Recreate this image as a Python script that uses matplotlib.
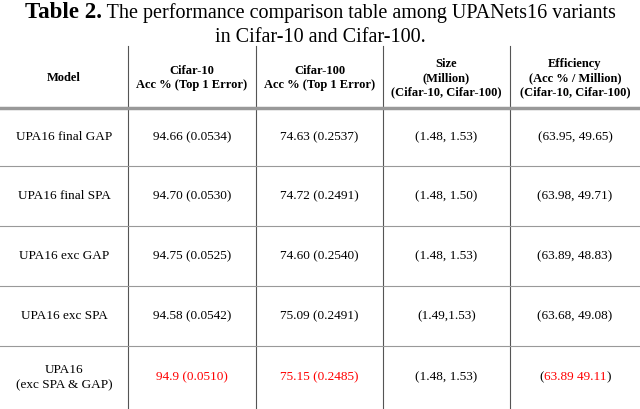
import matplotlib
matplotlib.use("Agg")
import matplotlib.pyplot as plt

headers = ["Model", "Cifar-10\nAcc % (Top 1 Error)", "Cifar-100\nAcc % (Top 1 Error)",
           "Size\n(Million)\n(Cifar-10, Cifar-100)", "Efficiency\n(Acc % / Million)\n(Cifar-10, Cifar-100)"]
models = ["UPA16 final GAP", "UPA16 final SPA", "UPA16 exc GAP", "UPA16 exc SPA", "UPA16\n(exc SPA & GAP)"]
cifar10 = ["94.66 (0.0534)", "94.70 (0.0530)", "94.75 (0.0525)", "94.58 (0.0542)", "94.9 (0.0510)"]
cifar100 = ["74.63 (0.2537)", "74.72 (0.2491)", "74.60 (0.2540)", "75.09 (0.2491)", "75.15 (0.2485)"]
size = ["(1.48, 1.53)", "(1.48, 1.50)", "(1.48, 1.53)", "(1.49,1.53)", "(1.48, 1.53)"]
eff = ["(63.95, 49.65)", "(63.98, 49.71)", "(63.89, 48.83)", "(63.68, 49.08)", "63.89 49.11"]

W, H = 640, 409
fig = plt.figure(figsize=(W/100, H/100), dpi=100)
ax = fig.add_axes([0, 0, 1, 1])
ax.set_xlim(0, W); ax.set_ylim(H, 0); ax.axis("off")
serif = "Liberation Serif"

t1 = ax.text(0, 13, "Table 2.", fontsize=16.5, fontweight="bold", family=serif, va="center", ha="left")
t2 = ax.text(0, 13, " The performance comparison table among UPANets16 variants", fontsize=14.5, family=serif, va="center", ha="left")
fig.canvas.draw()
r = fig.canvas.get_renderer()
w1 = t1.get_window_extent(r).width; w2 = t2.get_window_extent(r).width
x0 = (W - w1 - w2) / 2
t1.set_x(x0); t2.set_x(x0 + w1)
ax.text(320, 37, "in Cifar-10 and Cifar-100.", fontsize=14.5, family=serif, ha="center", va="center")

colx = [0, 128, 256, 383, 510, 640]
rowy = [46, 108, 166, 226, 286, 346, 409]
for x in colx[1:-1]:
    ax.plot([x, x], [46, 409], color="#555555", lw=0.8)
ax.plot([0, 640], [108, 108], color="#999999", lw=2.5)
for y in rowy[2:-1]:
    ax.plot([0, 640], [y, y], color="#999999", lw=0.8)

for j, h in enumerate(headers):
    cx = (colx[j] + colx[j+1]) / 2
    ax.text(cx, 78, h, ha="center", va="center", fontsize=9, fontweight="bold",
            family=serif, linespacing=1.2)

for i in range(5):
    cy = (rowy[i+1] + rowy[i+2]) / 2
    red = "red" if i == 4 else "black"
    cols = [(models[i], "black"), (cifar10[i], red), (cifar100[i], red), (size[i], "black")]
    for j, (s, c) in enumerate(cols):
        cx = (colx[j] + colx[j+1]) / 2
        ax.text(cx, cy, s, ha="center", va="center", fontsize=9.5, family=serif, color=c, linespacing=1.3)
    cx = (colx[4] + colx[5]) / 2
    if i < 4:
        ax.text(cx, cy, eff[i], ha="center", va="center", fontsize=9.5, family=serif)
    else:
        pa = ax.text(0, cy, "(", va="center", ha="left", fontsize=9.5, family=serif)
        pm = ax.text(0, cy, eff[i], va="center", ha="left", fontsize=9.5, family=serif, color="red")
        pb = ax.text(0, cy, ")", va="center", ha="left", fontsize=9.5, family=serif)
        fig.canvas.draw()
        wa = pa.get_window_extent(r).width; wm = pm.get_window_extent(r).width; wb = pb.get_window_extent(r).width
        s0 = cx - (wa + wm + wb) / 2
        pa.set_x(s0); pm.set_x(s0 + wa); pb.set_x(s0 + wa + wm)

fig.savefig("out.png", dpi=100)
